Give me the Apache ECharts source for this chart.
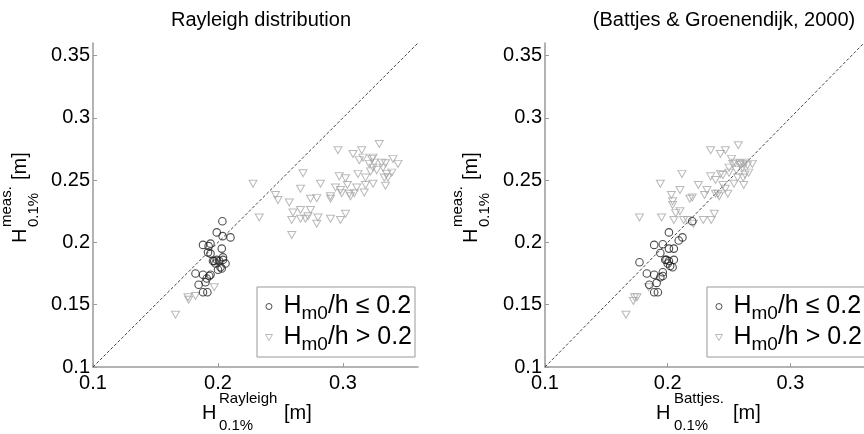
<!DOCTYPE html>
<html><head><meta charset="utf-8">
<script src="https://cdn.jsdelivr.net/npm/echarts@6/dist/echarts.min.js"></script>
<style>html,body{margin:0;padding:0;background:#fff}#c{width:864px;height:434px}</style>
</head><body><div id="c"></div>
<script>
const titles = ['Rayleigh distribution', '(Battjes & Groenendijk, 2000)'];
const seriesNames = ['Hm0/h ≤ 0.2', 'Hm0/h > 0.2'];
const axisMin = 0.1, axisMax = 0.36;
const xInterval = 0.1, yInterval = 0.05;
const diagonal = [0.1, 0.36];

// Left panel: Rayleigh prediction (x) vs measured (y)
const rayLowX = [0.2035,0.199,0.2037,0.210,0.188,0.1925,0.194,0.203,0.192,0.194,0.204,0.199,0.197,0.201,0.204,0.202,0.203,0.200,0.206,0.182,0.188,0.193,0.194,0.191,0.190,0.1845,0.188,0.1915,0.196,0.198];
const rayLowY = [0.217,0.208,0.205,0.204,0.198,0.197,0.199,0.195,0.192,0.191,0.188,0.186,0.185,0.185,0.186,0.180,0.179,0.178,0.183,0.175,0.174,0.173,0.174,0.171,0.168,0.166,0.160,0.160,0.185,0.183];
const rayHighX = [0.166,0.176,0.1765,0.182,0.197,0.228,0.233,0.246,0.248,0.257,0.259,0.259,0.260,0.266,0.266,0.270,0.272,0.274,0.280,0.279,0.290,0.298,0.302,0.266,0.268,0.274,0.279,0.282,0.290,0.290,0.294,0.296,0.297,0.298,0.299,0.302,0.3035,0.305,0.306,0.308,0.309,0.311,0.312,0.313,0.315,0.316,0.317,0.318,0.318,0.321,0.322,0.323,0.324,0.324,0.325,0.327,0.329,0.331,0.332,0.333,0.334,0.334,0.335,0.336,0.339,0.340,0.344,0.324];
const rayHighY = [0.142,0.156,0.154,0.157,0.164,0.247,0.220,0.238,0.234,0.232,0.206,0.218,0.224,0.226,0.219,0.219,0.221,0.226,0.220,0.215,0.219,0.218,0.223,0.243,0.2555,0.235,0.2355,0.247,0.237,0.235,0.244,0.274,0.253,0.242,0.2395,0.2515,0.246,0.239,0.237,0.271,0.2395,0.244,0.255,0.266,0.274,0.268,0.240,0.252,0.246,0.263,0.257,0.267,0.260,0.247,0.264,0.258,0.279,0.264,0.260,0.252,0.2635,0.2455,0.255,0.252,0.256,0.267,0.263,0.268];

// Right panel: Battjes & Groenendijk prediction (x) vs measured (y)
const bgLowX = [0.220,0.201,0.209,0.212,0.189,0.196,0.194,0.201,0.205,0.177,0.198,0.201,0.205,0.202,0.204,0.183,0.189,0.194,0.196,0.191,0.185,0.189,0.192,0.199,0.200,0.196];
const bgLowY = [0.217,0.208,0.2015,0.204,0.198,0.1985,0.1915,0.195,0.195,0.184,0.186,0.185,0.186,0.181,0.180,0.175,0.174,0.172,0.173,0.1675,0.166,0.160,0.160,0.186,0.183,0.176];
const bgHighX = [0.166,0.172,0.173,0.175,0.1845,0.177,0.194,0.195,0.203,0.204,0.204,0.2065,0.205,0.210,0.2116,0.210,0.213,0.216,0.218,0.220,0.221,0.225,0.229,0.2355,0.238,0.230,0.232,0.235,0.235,0.239,0.239,0.241,0.242,0.243,0.243,0.245,0.247,0.249,0.247,0.245,0.250,0.250,0.252,0.253,0.254,0.255,0.256,0.257,0.2575,0.259,0.259,0.261,0.2615,0.2615,0.263,0.262,0.263,0.265,0.266,0.269];
const bgHighY = [0.142,0.153,0.156,0.156,0.164,0.220,0.247,0.220,0.238,0.233,0.230,0.2235,0.218,0.242,0.255,0.225,0.218,0.218,0.235,0.236,0.215,0.246,0.218,0.218,0.223,0.238,0.242,0.253,0.274,0.250,0.239,0.239,0.237,0.271,0.255,0.246,0.243,0.239,0.274,0.254,0.260,0.256,0.267,0.263,0.247,0.264,0.258,0.252,0.278,0.2635,0.262,0.260,0.263,0.252,0.2545,0.246,0.264,0.262,0.256,0.263];

const zip = (xs, ys) => xs.map((x, i) => [x, ys[i]]);
const FONT = 'Liberation Sans, Arial, Helvetica, sans-serif';
const axisColor = '#9a9a9a';
const lowColor = '#222', highColor = '#a8a8a8';
const downTri = 'path://M0,0 L10,0 L5,8.66 Z';

function xAxisCfg(gi) {
  return {
    type: 'value', gridIndex: gi, min: axisMin, max: axisMax, interval: xInterval,
    axisLine: {show: true, onZero: false, lineStyle: {color: axisColor, width: 1.5}},
    axisTick: {show: true, inside: true, length: 4, lineStyle: {color: axisColor}},
    splitLine: {show: false},
    axisLabel: {color: '#000', fontSize: 20, fontFamily: FONT, margin: 6, showMaxLabel: false,
      formatter: v => String(+v.toFixed(2))}
  };
}
function yAxisCfg(gi) {
  return {
    type: 'value', gridIndex: gi, min: axisMin, max: axisMax, interval: yInterval,
    axisLine: {show: true, onZero: false, lineStyle: {color: axisColor, width: 1.5}},
    axisTick: {show: true, inside: true, length: 4, lineStyle: {color: axisColor}},
    splitLine: {show: false},
    axisLabel: {color: '#000', fontSize: 20, fontFamily: FONT, margin: 3, showMaxLabel: false,
      formatter: v => String(+v.toFixed(2))}
  };
}

const lowStyle = {color: 'rgba(0,0,0,0)', borderColor: lowColor, borderWidth: 1.1};
const highStyle = {color: 'rgba(0,0,0,0)', borderColor: highColor, borderWidth: 1};

function panelSeries(gi, lowX, lowY, highX, highY) {
  return [
    {type: 'line', xAxisIndex: gi, yAxisIndex: gi, data: zip(diagonal, diagonal), symbol: 'none',
     lineStyle: {color: '#444', width: 1, type: [3, 2]}, silent: true, z: 1},
    {name: seriesNames[1], type: 'scatter', xAxisIndex: gi, yAxisIndex: gi, data: zip(highX, highY),
     symbol: downTri, symbolSize: [8, 7], itemStyle: highStyle, z: 2},
    {name: seriesNames[0], type: 'scatter', xAxisIndex: gi, yAxisIndex: gi, data: zip(lowX, lowY),
     symbol: 'circle', symbolSize: 7.5, itemStyle: lowStyle, z: 3}
  ];
}

function legendCfg(left) {
  return {
    orient: 'vertical', left: left, top: 287, itemWidth: 19, itemHeight: 6, itemGap: 2,
    padding: [7, 3, 3, 8], backgroundColor: '#fff', borderColor: '#999', borderWidth: 1,
    selectedMode: false, symbolKeepAspect: true,
    data: [
      {name: seriesNames[0], icon: 'circle', itemStyle: {color: 'rgba(0,0,0,0)', borderColor: lowColor, borderWidth: 1}},
      {name: seriesNames[1], icon: downTri, itemStyle: {color: 'rgba(0,0,0,0)', borderColor: highColor, borderWidth: 1}}
    ],
    formatter: n => n === seriesNames[0] ? '{h|H}{s|m0}{h|/h ≤ 0.2}' : '{h|H}{s|m0}{h|/h > 0.2}',
    textStyle: {fontFamily: FONT, color: '#000', rich: {
      h: {fontSize: 25, fontFamily: FONT, color: '#000', lineHeight: 30},
      s: {fontSize: 19, fontFamily: FONT, color: '#000', padding: [14, 0, 0, 0]}
    }}
  };
}

function txt(x, y, text, size, rot, align) {
  return {type: 'text', x: x, y: y, rotation: rot || 0, silent: true,
    style: {text: text, fontSize: size, fontFamily: FONT, fill: '#000', align: align || 'left', verticalAlign: 'bottom'}};
}
const R = Math.PI / 2;
const graphics = [
  // x label left
  txt(202, 423, 'H', 20), txt(219, 406, 'Rayleigh', 15), txt(219, 433, '0.1%', 15), txt(284, 423, '[m]', 20),
  // x label right
  txt(656, 423, 'H', 20), txt(674, 406, 'Battjes.', 15), txt(674, 433, '0.1%', 15), txt(733, 423, '[m]', 20),
  // y label left
  txt(30, 243, 'H', 20, R), txt(14, 227, 'meas.', 15, R), txt(41, 227, '0.1%', 15, R), txt(30, 180, '[m]', 20, R),
  // y label right
  txt(481, 243, 'H', 20, R), txt(465, 227, 'meas.', 15, R), txt(492, 227, '0.1%', 15, R), txt(481, 180, '[m]', 20, R)
];

const chart = echarts.init(document.getElementById('c'), null, {renderer: 'canvas'});
chart.setOption({
  animation: false,
  backgroundColor: '#fff',
  title: [
    {text: titles[0], left: 256, top: 5, textAlign: 'center', textStyle: {fontSize: 20, fontWeight: 'normal', fontFamily: FONT, color: '#000'}},
    {text: titles[1], left: 719, top: 5, textAlign: 'center', textStyle: {fontSize: 20, fontWeight: 'normal', fontFamily: FONT, color: '#000'}}
  ],
  grid: [
    {left: 93, top: 43, width: 325, height: 324, containLabel: false},
    {left: 545, top: 43, width: 326, height: 324, containLabel: false}
  ],
  xAxis: [xAxisCfg(0), xAxisCfg(1)],
  yAxis: [yAxisCfg(0), yAxisCfg(1)],
  legend: [legendCfg(257), legendCfg(707)],
  series: [].concat(panelSeries(0, rayLowX, rayLowY, rayHighX, rayHighY),
                    panelSeries(1, bgLowX, bgLowY, bgHighX, bgHighY)),
  graphic: graphics
});
</script></body></html>
